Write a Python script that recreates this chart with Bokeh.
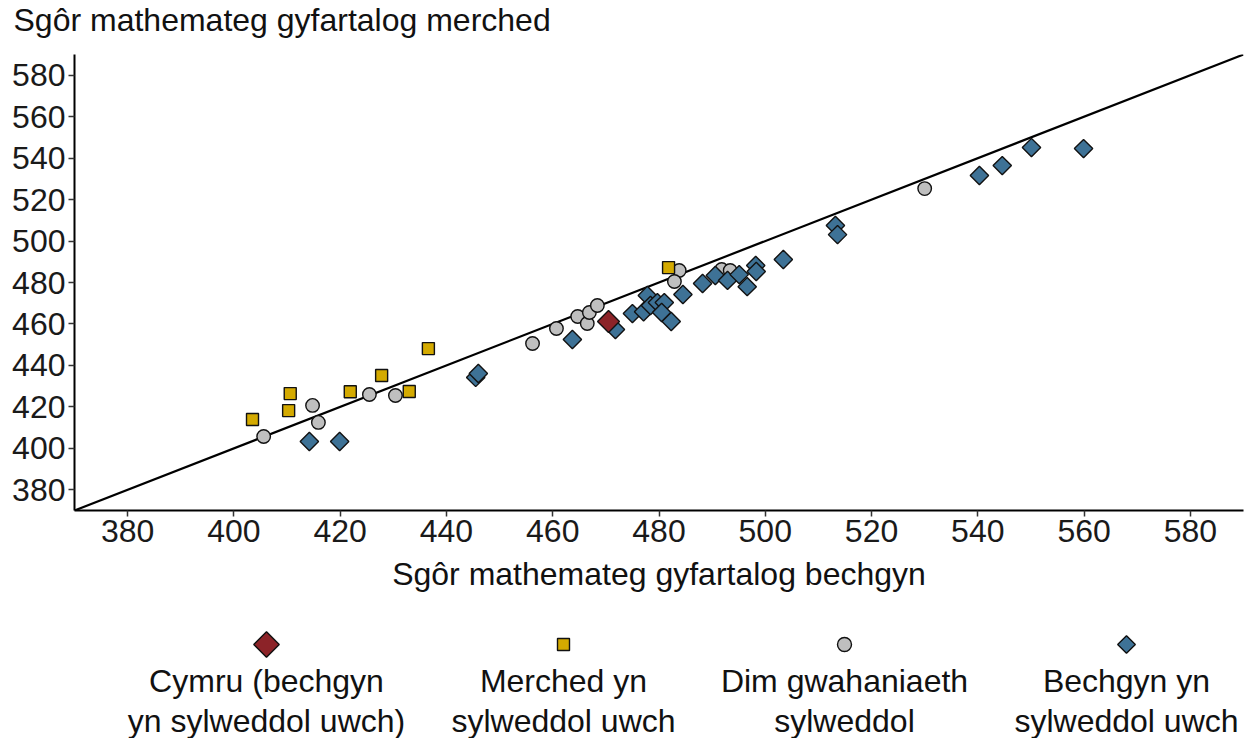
import numpy as np
from bokeh.plotting import figure
from bokeh.layouts import column
from bokeh.models import Range1d, FixedTicker, ColumnDataSource, Label
from bokeh.core.properties import value
from bokeh.embed import file_html
from bokeh.resources import INLINE

# ---------------- data ----------------
ticks = [380, 400, 420, 440, 460, 480, 500, 520, 540, 560, 580]
axis_limits = [370, 590]

wales_boys = [470.5]
wales_girls = [461.2]

girls_higher_boys = [403.5, 410.3, 410.6, 421.9, 427.8, 433.0, 436.6, 481.8]
girls_higher_girls = [413.9, 418.2, 426.4, 427.3, 435.1, 427.4, 448.1, 487.2]

nodiff_boys = [405.6, 414.8, 415.9, 425.5, 430.4, 456.2, 460.7, 464.7, 466.5, 466.9,
               468.4, 483.8, 482.9, 491.8, 493.4, 530.0]
nodiff_girls = [405.7, 420.7, 412.5, 426.0, 425.5, 450.6, 457.8, 463.6, 460.2, 465.5,
                468.9, 485.8, 480.5, 486.3, 485.8, 525.3]

boys_higher_boys = [414.2, 419.9, 445.5, 446.0, 463.7, 471.8, 475.0, 477.8, 477.1, 478.4,
                    479.7, 481.0, 480.5, 482.3, 484.5, 488.2, 490.6, 492.9, 495.1, 496.6,
                    498.2, 498.3, 503.4, 513.2, 513.6, 540.3, 544.6, 550.1, 559.9]
boys_higher_girls = [403.3, 403.3, 434.2, 436.1, 452.5, 457.3, 465.0, 473.7, 465.9, 468.9,
                     470.3, 470.3, 465.5, 461.2, 474.2, 479.5, 483.4, 481.0, 483.8, 478.0,
                     488.2, 485.3, 491.1, 507.5, 503.1, 531.6, 536.4, 545.1, 544.6]

legend_labels = ["Cymru (bechgyn\nyn sylweddol uwch)",
                 "Merched yn\nsylweddol uwch",
                 "Dim gwahaniaeth\nsylweddol",
                 "Bechgyn yn\nsylweddol uwch"]

title_text = "Sgôr mathemateg gyfartalog merched"
xlabel_text = "Sgôr mathemateg gyfartalog bechgyn"

# ---------------- style ----------------
FONT = "Liberation Sans"
FS = "32px"
RED = "#8c2328"
YELLOW = "#d4aa00"
GREY = "#bfbfbf"
BLUE = "#3e7296"

W = 1246
H = 596
BL, BR, BT, BB = 74, 3, 54, 86
FRAME_W = W - BL - BR
FRAME_H = H - BT - BB

p = figure(width=W, height=H,
           x_range=Range1d(*axis_limits), y_range=Range1d(*axis_limits),
           output_backend="svg", toolbar_location=None,
           min_border_left=BL, min_border_right=BR, min_border_top=BT, min_border_bottom=BB)

# y-axis title shown above the plot, left-aligned
p.add_layout(Label(x=-61, y=34.5, x_units="screen", y_units="screen",
                   text=title_text, text_font=FONT, text_font_size=FS,
                   text_color="#111111", text_align="left", text_baseline="alphabetic"),
             "above")

p.grid.visible = False
p.outline_line_color = None

for ax in (p.xaxis[0], p.yaxis[0]):
    ax.ticker = FixedTicker(ticks=ticks)
    ax.axis_line_width = 2
    ax.axis_line_color = "#000000"
    ax.major_tick_line_color = "#333333"
    ax.major_tick_line_width = 1.5
    ax.major_tick_out = 6
    ax.major_tick_in = 0
    ax.minor_tick_line_color = None
    ax.major_label_text_font = FONT
    ax.major_label_text_font_size = FS
    ax.major_label_text_color = "#1a1a1a"
    ax.major_label_standoff = 3

p.xaxis.axis_label = xlabel_text
p.xaxis.axis_label_text_font = FONT
p.xaxis.axis_label_text_font_size = FS
p.xaxis.axis_label_text_font_style = "normal"
p.xaxis.axis_label_text_color = "#111111"
p.xaxis.axis_label_standoff = 11

p.line(axis_limits, axis_limits, line_width=2.2, line_color="#000000")

p.scatter(nodiff_boys, nodiff_girls, marker="circle", size=13.5,
          fill_color=GREY, line_color="#111111", line_width=1.4)
p.scatter(girls_higher_boys, girls_higher_girls, marker="square", size=12,
          fill_color=YELLOW, line_color="#111111", line_width=1.4)
p.scatter(boys_higher_boys, boys_higher_girls, marker="square", angle=np.pi / 4, size=13,
          fill_color=BLUE, line_color="#111111", line_width=1.4)
p.scatter(wales_boys, wales_girls, marker="square", angle=np.pi / 4, size=15.5,
          fill_color=RED, line_color="#111111", line_width=1.4)

# ---------------- legend (separate strip, frame aligned with the plot) ----------------
LH = 142
lg = figure(width=W, height=LH, x_range=Range1d(0, FRAME_W), y_range=Range1d(LH, 0),
            output_backend="svg", toolbar_location=None,
            x_axis_type=None, y_axis_type=None,
            min_border_left=BL, min_border_right=BR, min_border_top=0, min_border_bottom=0)
lg.grid.visible = False
lg.outline_line_color = None

legend_x = [192, 489, 770, 1052]   # key centres, px from the plot frame's left edge
key_y = 48
label_y = 66
legend_markers = ["square", "square", "circle", "square"]
legend_angles = [np.pi / 4, 0, 0, np.pi / 4]
legend_sizes = [18, 12, 14, 12.5]
legend_colors = [RED, YELLOW, GREY, BLUE]

src = ColumnDataSource(dict(x=legend_x, y=[key_y] * 4, m=legend_markers, a=legend_angles,
                            s=legend_sizes, c=legend_colors, t=legend_labels,
                            ty=[label_y] * 4))
lg.scatter(x="x", y="y", marker="m", angle="a", size="s", fill_color="c",
           line_color="#111111", line_width=1.4, source=src)
lg.text(x="x", y="ty", text="t", source=src, text_align="center", text_baseline="top",
        text_font=value(FONT), text_font_size=FS, text_color="#111111",
        text_line_height=1.12)

layout = column(p, lg)
open("out.html", "w").write(file_html(layout, INLINE))
